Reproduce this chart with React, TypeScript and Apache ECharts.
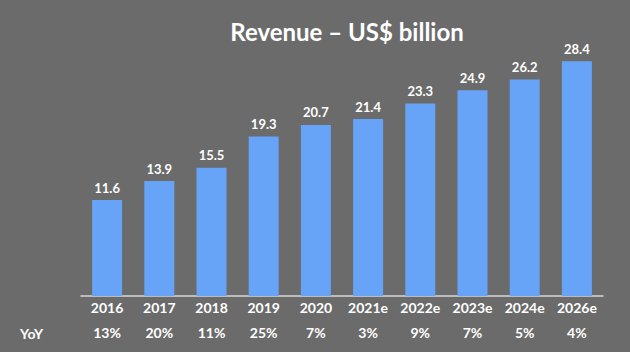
import React, { useEffect, useRef } from "react";
import * as echarts from "echarts";

const categories = ["2016", "2017", "2018", "2019", "2020", "2021e", "2022e", "2023e", "2024e", "2026e"];
const revenue = [11.6, 13.9, 15.5, 19.3, 20.7, 21.4, 23.3, 24.9, 26.2, 28.4];
const yoy = ["13%", "20%", "11%", "25%", "7%", "3%", "9%", "7%", "5%", "4%"];
const titleText = "Revenue – US$ billion";
const yoyLabel = "YoY";

const FONT = "Lato, 'Open Sans', sans-serif";

export default function App() {
  const ref = useRef<HTMLDivElement>(null);
  useEffect(() => {
    if (!ref.current) return;
    const chart = echarts.init(ref.current, null, { renderer: "svg" });
    chart.setOption({
      animation: false,
      backgroundColor: "#6b6b6b",
      title: {
        text: titleText,
        left: 342,
        top: 14,
        textAlign: "center",
        textStyle: { color: "#ffffff", fontFamily: FONT, fontWeight: "bold", fontSize: 24 },
      },
      grid: { left: 81, right: 27, top: 48, bottom: 56 },
      xAxis: [
        {
          type: "category",
          data: categories,
          axisLine: { show: true, lineStyle: { color: "#d8d8d8", width: 1.5 } },
          axisTick: { show: false },
          axisLabel: { color: "#ffffff", fontFamily: FONT, fontWeight: "bold", fontSize: 14, margin: 4 },
        },
        {
          type: "category",
          data: yoy,
          position: "bottom",
          offset: 25,
          axisLine: { show: false },
          axisTick: { show: false },
          axisLabel: { color: "#ffffff", fontFamily: FONT, fontWeight: "bold", fontSize: 14, margin: 4 },
        },
      ],
      yAxis: { type: "value", min: 0, max: 30, show: false, splitLine: { show: false } },
      series: [
        {
          type: "bar",
          data: revenue,
          barWidth: 30,
          itemStyle: { color: "#67a3f6" },
          label: {
            show: true,
            position: "top",
            distance: 6,
            color: "#ffffff",
            fontFamily: FONT,
            fontWeight: "bold",
            fontSize: 13,
          },
        },
      ],
      graphic: [
        {
          type: "text",
          left: 20,
          top: 326,
          style: { text: yoyLabel, fill: "#ffffff", font: `bold 14px ${FONT}` },
        },
      ],
    });
    return () => chart.dispose();
  }, []);
  return <div ref={ref} style={{ width: 630, height: 352, position: "fixed", left: 0, top: 0 }} />;
}
